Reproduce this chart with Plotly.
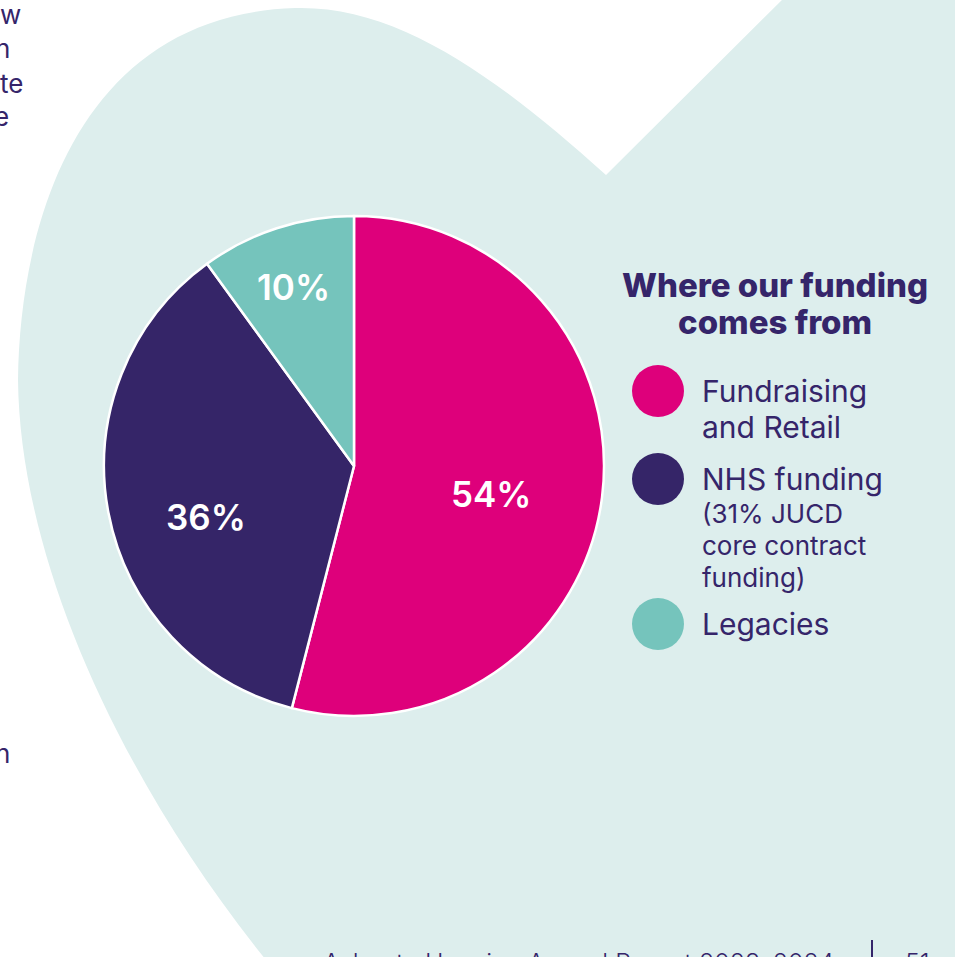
import plotly.graph_objects as go

# ---- data ----
categories = ["Fundraising and Retail", "NHS funding", "Legacies"]
values = [54, 36, 10]
colors = ["#de007b", "#352568", "#75c4bc"]
legend_lines = [["Fundraising", "and Retail"], ["NHS funding"], ["Legacies"]]
legend_notes = [[], ["(31% JUCD", "core contract", "funding)"], []]
title_lines = ["Where our funding", "comes from"]
side_fragments = ["w", "n", "te", "e", "n"]
footer_text = "Ashgate Hospice Annual Report 2023\u20132024"
page_number = "51"

# ---- layout helpers (pixel positions) ----
W, H = 955, 957
TXT = "#35256a"
BG = "#ddeeed"
FONT = "Inter"
label_pos = [(491, 494), (206, 517), (293, 287)]
circle_y = [391, 479, 624]
frag_pos = [(23, 15), (12, 48), (25, 83), (11, 117), (12, 753)]

def px(x):
    return x / W

def py(y):
    return 1 - y / H

fig = go.Figure()

# invisible pixel-space axes for decorations
fig.add_trace(go.Scatter(x=[0, W], y=[0, H], mode="markers",
                         marker=dict(opacity=0), hoverinfo="skip", showlegend=False))

fig.add_trace(go.Pie(
    labels=categories, values=values, sort=False, direction="clockwise", rotation=0,
    marker=dict(colors=colors, line=dict(color="white", width=2.5)),
    textinfo="none",
    domain=dict(x=[px(104), px(604)], y=[py(716), py(216)]),
    showlegend=False, hoverinfo="label+percent",
))

heart = ("M 606 175 L 790 -8 L 965 -8 L 965 965 L 270 965 "
         "C 120 780, 20 560, 18 380 "
         "C 20 220, 80 15, 295 8 "
         "C 400 5, 500 80, 606 175 Z")
shapes = [dict(type="path", path=heart, xref="x", yref="y",
               fillcolor=BG, line=dict(width=0), layer="below")]

annotations = []
total = sum(values)
for v, (lx, ly) in zip(values, label_pos):
    annotations.append(dict(x=px(lx), y=py(ly), xref="paper", yref="paper",
                            text=f"{round(100 * v / total)}%", showarrow=False,
                            xanchor="center", yanchor="middle",
                            font=dict(family=FONT, size=35, color="white", weight=600)))

# title
for i, t in enumerate(title_lines):
    annotations.append(dict(x=px(775), y=py(285 + 37 * i), xref="paper", yref="paper",
                            text=t, showarrow=False, xanchor="center", yanchor="middle",
                            font=dict(family=FONT, size=33, color=TXT, weight=800)))

# legend
for k in range(len(categories)):
    cy = circle_y[k]
    shapes.append(dict(type="circle", xref="x", yref="y", x0=632, x1=684, y0=cy - 26, y1=cy + 26,
                       fillcolor=colors[k], line=dict(width=0), layer="above"))
    for j, t in enumerate(legend_lines[k]):
        annotations.append(dict(x=px(700), y=py(cy + 36 * j), xref="paper", yref="paper", text=t,
                                showarrow=False, xanchor="left", yanchor="middle",
                                font=dict(family=FONT, size=30, color=TXT, weight=400)))
    ny = cy + 34
    for j, t in enumerate(legend_notes[k]):
        annotations.append(dict(x=px(700), y=py(ny + 32 * j), xref="paper", yref="paper", text=t,
                                showarrow=False, xanchor="left", yanchor="middle",
                                font=dict(family=FONT, size=26, color=TXT, weight=400)))

# cut-off text fragments at the left edge
for t, (fx, fy) in zip(side_fragments, frag_pos):
    annotations.append(dict(x=px(fx), y=py(fy), xref="paper", yref="paper", text=t, showarrow=False,
                            xanchor="right", yanchor="middle",
                            font=dict(family=FONT, size=26, color=TXT)))

# footer (mostly cut off at the bottom)
annotations.append(dict(x=px(836), y=py(946), xref="paper", yref="paper", text=footer_text,
                        showarrow=False, xanchor="right", yanchor="top",
                        font=dict(family=FONT, size=25, color=TXT, weight=300)))
annotations.append(dict(x=px(903), y=py(946), xref="paper", yref="paper", text=page_number,
                        showarrow=False, xanchor="left", yanchor="top",
                        font=dict(family=FONT, size=25, color=TXT, weight=300)))
shapes.append(dict(type="line", xref="x", yref="y", x0=872, x1=872, y0=940, y1=960,
                   line=dict(color=TXT, width=2)))

fig.update_layout(
    width=W, height=H, margin=dict(l=0, r=0, t=0, b=0),
    paper_bgcolor="white", plot_bgcolor="rgba(0,0,0,0)",
    xaxis=dict(range=[0, W], visible=False, fixedrange=True, domain=[0, 1]),
    yaxis=dict(range=[H, 0], visible=False, fixedrange=True, domain=[0, 1]),
    shapes=shapes, annotations=annotations, showlegend=False,
)

fig.write_html("out.html")
